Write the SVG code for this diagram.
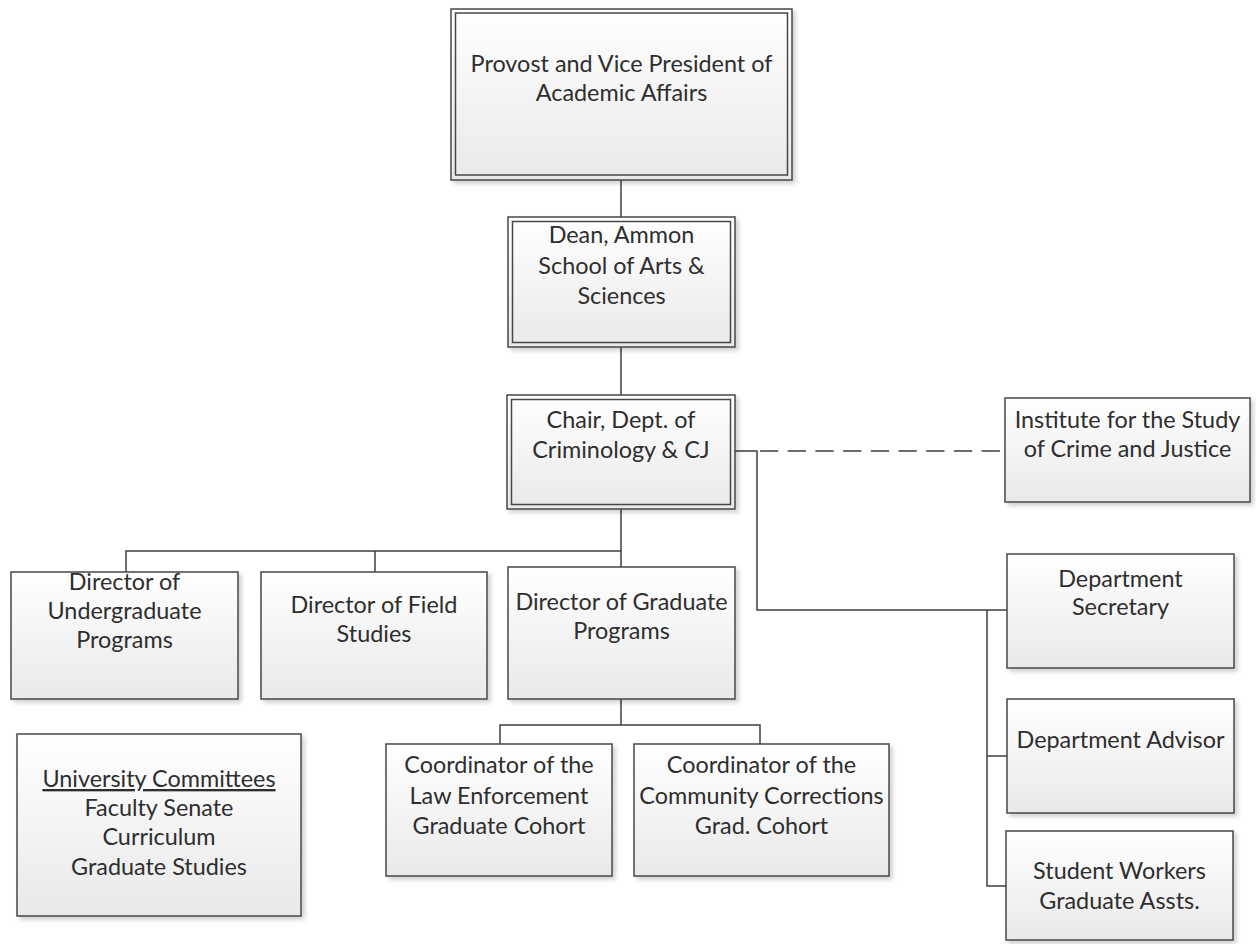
<svg xmlns="http://www.w3.org/2000/svg" width="1256" height="944" viewBox="0 0 1256 944">
  <defs>
    <linearGradient id="fill" x1="0" y1="0" x2="0" y2="1">
      <stop offset="0" stop-color="#ffffff"/>
      <stop offset="1" stop-color="#e9e9e9"/>
    </linearGradient>
    <filter id="shadow" x="-10%" y="-10%" width="125%" height="125%">
      <feDropShadow dx="3" dy="3" stdDeviation="2" flood-color="#000000" flood-opacity="0.18"/>
    </filter>
  </defs>
  <style>
    .box { fill: url(#fill); stroke: #474747; stroke-width: 1.5; filter: url(#shadow); }
    .inner { fill: none; stroke: #474747; stroke-width: 1.5; }
    .lbl { font-family: Lato, "Liberation Sans", sans-serif; font-size: 23.4px; fill: #2e2e2e; text-anchor: middle; }
    .conn { fill: none; stroke: #3f3f3f; stroke-width: 1.5; }
    .dash { stroke-dasharray: 18.3 9.4; }
  </style>
  <rect width="1256" height="944" fill="#ffffff"/>

  <g id="connectors">
    <line class="conn" x1="621" y1="180" x2="621" y2="217"/>
    <line class="conn" x1="621" y1="347" x2="621" y2="395"/>
    <polyline class="conn" points="621,509 621,551"/>
    <polyline class="conn" points="126,572 126,551 621,551 621,567"/>
    <line class="conn" x1="375" y1="551" x2="375" y2="572"/>
    <polyline class="conn" points="621,699 621,725"/>
    <polyline class="conn" points="500,744 500,725 760,725 760,744"/>
    <polyline class="conn" points="735,451 757,451 757,610 1007,610"/>
    <polyline class="conn" points="987,610 987,886 1006,886"/>
    <line class="conn" x1="987" y1="756" x2="1007" y2="756"/>
    <line class="conn dash" x1="760" y1="451" x2="1005" y2="451"/>
  </g>

  <g id="provost">
    <rect class="box" x="451" y="9" width="341" height="171"/>
    <rect class="inner" x="455.5" y="13" width="332" height="162"/>
    <text class="lbl" x="621.5" y="72">Provost and Vice President of</text>
    <text class="lbl" x="621.5" y="101">Academic Affairs</text>
  </g>

  <g id="dean">
    <rect class="box" x="508" y="217" width="227" height="130"/>
    <rect class="inner" x="512.5" y="221.5" width="218" height="121"/>
    <text class="lbl" x="621.5" y="243">Dean, Ammon</text>
    <text class="lbl" x="621.5" y="274">School of Arts &amp;</text>
    <text class="lbl" x="621.5" y="304">Sciences</text>
  </g>

  <g id="chair">
    <rect class="box" x="507" y="395" width="228" height="114"/>
    <rect class="inner" x="511.5" y="399.5" width="219" height="105"/>
    <text class="lbl" x="621" y="428">Chair, Dept. of</text>
    <text class="lbl" x="621" y="458">Criminology &amp; CJ</text>
  </g>

  <g id="institute">
    <rect class="box" x="1005" y="398" width="245" height="104"/>
    <text class="lbl" x="1127.5" y="428">Institute for the Study</text>
    <text class="lbl" x="1127.5" y="457">of Crime and Justice</text>
  </g>

  <g id="undergrad">
    <rect class="box" x="11" y="572" width="227" height="127"/>
    <text class="lbl" x="124.5" y="590">Director of</text>
    <text class="lbl" x="124.5" y="619">Undergraduate</text>
    <text class="lbl" x="124.5" y="648">Programs</text>
  </g>

  <g id="field">
    <rect class="box" x="261" y="572" width="226" height="127"/>
    <text class="lbl" x="374" y="613">Director of Field</text>
    <text class="lbl" x="374" y="642">Studies</text>
  </g>

  <g id="graduate">
    <rect class="box" x="508" y="567" width="227" height="132"/>
    <text class="lbl" x="621.5" y="610">Director of Graduate</text>
    <text class="lbl" x="621.5" y="639">Programs</text>
  </g>

  <g id="coord-le">
    <rect class="box" x="386" y="744" width="226" height="132"/>
    <text class="lbl" x="499" y="773">Coordinator of the</text>
    <text class="lbl" x="499" y="804">Law Enforcement</text>
    <text class="lbl" x="499" y="834">Graduate Cohort</text>
  </g>

  <g id="coord-cc">
    <rect class="box" x="634" y="744" width="255" height="132"/>
    <text class="lbl" x="761.5" y="773">Coordinator of the</text>
    <text class="lbl" x="761.5" y="804">Community Corrections</text>
    <text class="lbl" x="761.5" y="834">Grad. Cohort</text>
  </g>

  <g id="committees">
    <rect class="box" x="17" y="734" width="284" height="182"/>
    <text class="lbl" x="159" y="787" text-decoration="underline">University Committees</text>
    <text class="lbl" x="159" y="816">Faculty Senate</text>
    <text class="lbl" x="159" y="845">Curriculum</text>
    <text class="lbl" x="159" y="875">Graduate Studies</text>
  </g>

  <g id="secretary">
    <rect class="box" x="1007" y="554" width="227" height="114"/>
    <text class="lbl" x="1120.5" y="587">Department</text>
    <text class="lbl" x="1120.5" y="615">Secretary</text>
  </g>

  <g id="advisor">
    <rect class="box" x="1007" y="699" width="227" height="114"/>
    <text class="lbl" x="1120.5" y="748">Department Advisor</text>
  </g>

  <g id="student">
    <rect class="box" x="1006" y="831" width="227" height="109"/>
    <text class="lbl" x="1119.5" y="879">Student Workers</text>
    <text class="lbl" x="1119.5" y="909">Graduate Assts.</text>
  </g>
</svg>
